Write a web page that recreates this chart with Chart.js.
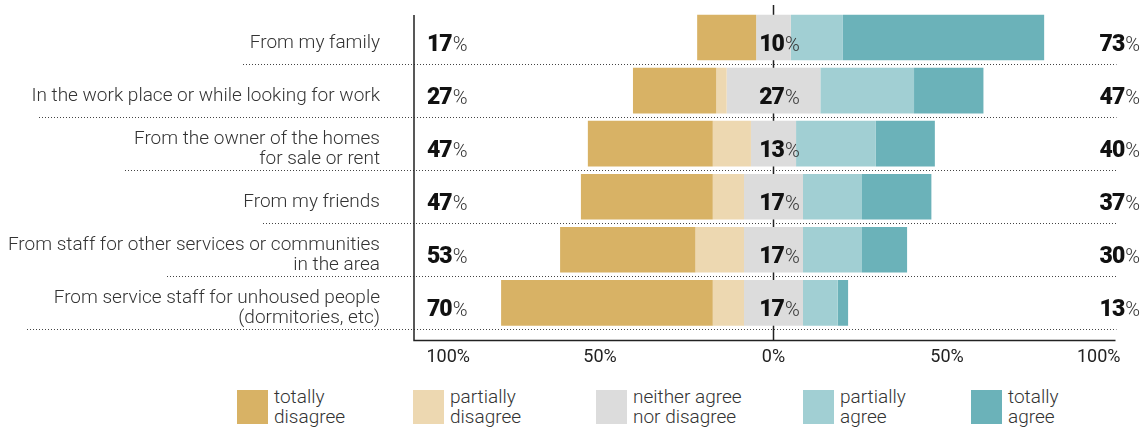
<!DOCTYPE html>
<html lang="en">
<head>
    <meta charset="UTF-8">
    <title>Sources of discrimination</title>
    <script src="https://cdn.jsdelivr.net/npm/chart.js@4.4.1/dist/chart.umd.min.js"></script>
    <style>
        body {
            margin: 0;
            background: #fff;
            font-family: 'Roboto', 'Inter', sans-serif;
            color: #333;
        }
        .wrap {
            position: relative;
            width: 1147px;
            height: 428px;
        }
        #chart {
            position: absolute;
            left: 0;
            top: 0;
        }
        .legend-item {
            position: absolute;
            top: 390px;
            display: flex;
            align-items: flex-start;
        }
        .legend-box {
            width: 31px;
            height: 34px;
        }
        .legend-text {
            margin-left: 6px;
            margin-top: -3px;
            font-size: 19px;
            font-weight: 300;
            line-height: 20px;
            color: #333;
            white-space: nowrap;
        }
    </style>
</head>
<body>

<div class="wrap" id="wrap">
    <canvas id="chart" width="1147" height="377"></canvas>
</div>

<script>
    // Categories and answer shares (%)
    const categories = [
        ['From my family'],
        ['In the work place or while looking for work'],
        ['From the owner of the homes', 'for sale or rent'],
        ['From my friends'],
        ['From staff for other services or communities', 'in the area'],
        ['From service staff for unhoused people', '(dormitories, etc)']
    ];
    const totallyDisagree   = [17, 24, 36, 38, 39, 61];
    const partiallyDisagree = [0, 3, 11, 9, 14, 9];
    const neutral           = [10, 27, 13, 17, 17, 17];
    const partiallyAgree    = [15, 27, 23, 17, 17, 10];
    const totallyAgree      = [58, 20, 17, 20, 13, 3];

    const seriesNames = [
        ['totally', 'disagree'],
        ['partially', 'disagree'],
        ['neither agree', 'nor disagree'],
        ['partially', 'agree'],
        ['totally', 'agree']
    ];
    const seriesColors = ['#d8b265', '#edd8b1', '#dcdcdc', '#a1cfd3', '#6bb2b9'];
    const tickValues = [-100, -50, 0, 50, 100];

    // layout bits: where each dotted row rule starts, where each legend entry sits
    const ruleStart = [243, 39, 125, 263, 167, 27];
    const legendLeft = [237, 413, 596, 803, 971];

    // neutral block sits centred on zero, disagree to the left, agree to the right
    const half = neutral.map(v => v / 2);
    const tdRange = half.map((h, i) => [-(h + partiallyDisagree[i] + totallyDisagree[i]), -(h + partiallyDisagree[i])]);
    const pdRange = half.map((h, i) => [-(h + partiallyDisagree[i]), -h]);
    const nRange  = half.map(h => [-h, h]);
    const paRange = half.map((h, i) => [h, h + partiallyAgree[i]]);
    const taRange = half.map((h, i) => [h + partiallyAgree[i], h + partiallyAgree[i] + totallyAgree[i]]);
    const ranges = [tdRange, pdRange, nRange, paRange, taRange];

    const disagreeTotal = totallyDisagree.map((v, i) => v + partiallyDisagree[i]);
    const agreeTotal = totallyAgree.map((v, i) => v + partiallyAgree[i]);

    // legend
    const wrapEl = document.getElementById('wrap');
    seriesNames.forEach((name, i) => {
        const item = document.createElement('div');
        item.className = 'legend-item';
        item.style.left = legendLeft[i] + 'px';
        item.innerHTML = '<div class="legend-box" style="background:' + seriesColors[i] + '"></div>' +
            '<div class="legend-text">' + name.join('<br>') + '</div>';
        wrapEl.appendChild(item);
    });

    function drawPct(ctx, value, x, y, align) {
        const num = String(value);
        ctx.font = '900 23px Roboto, Inter, sans-serif';
        ctx.letterSpacing = '-1px';
        const wNum = ctx.measureText(num).width;
        ctx.font = '300 20px Roboto, Inter, sans-serif';
        ctx.letterSpacing = '0px';
        const wPct = ctx.measureText('%').width;
        const total = wNum + wPct + 1;
        let left = x;
        if (align === 'right') left = x - total;
        if (align === 'center') left = x - total / 2;
        ctx.textAlign = 'left';
        ctx.textBaseline = 'alphabetic';
        ctx.fillStyle = '#111';
        ctx.font = '900 23px Roboto, Inter, sans-serif';
        ctx.letterSpacing = '-1px';
        ctx.fillText(num, left, y);
        ctx.font = '300 20px Roboto, Inter, sans-serif';
        ctx.letterSpacing = '0px';
        ctx.fillStyle = '#333';
        ctx.fillText('%', left + wNum + 1, y);
    }

    const decor = {
        id: 'decor',
        beforeDatasetsDraw(chart) {
            const {ctx, chartArea, scales} = chart;
            const x0 = scales.x.getPixelForValue(0);
            const band = (chartArea.bottom - chartArea.top) / categories.length;
            const axisY = chartArea.bottom + 11;
            ctx.save();
            // dotted row rules
            ctx.strokeStyle = '#444';
            ctx.lineWidth = 1;
            ctx.setLineDash([1, 2]);
            categories.forEach((c, i) => {
                const y = Math.round(scales.y.getPixelForValue(i) + band / 2) + 0.5;
                ctx.beginPath();
                ctx.moveTo(ruleStart[i], y);
                ctx.lineTo(chartArea.right - 4, y);
                ctx.stroke();
            });
            ctx.setLineDash([]);
            // zero line
            ctx.strokeStyle = '#222';
            ctx.lineWidth = 1.5;
            ctx.beginPath();
            ctx.moveTo(x0, 5);
            ctx.lineTo(x0, axisY);
            ctx.stroke();
            // left and bottom axis lines
            const axisX = chartArea.left - 12.5;
            ctx.beginPath();
            ctx.moveTo(axisX, chartArea.top + 4);
            ctx.lineTo(axisX, axisY);
            ctx.lineTo(chartArea.right - 5, axisY);
            ctx.stroke();
            ctx.restore();
        },
        afterDatasetsDraw(chart) {
            const {ctx, chartArea, scales} = chart;
            const x0 = scales.x.getPixelForValue(0);
            ctx.save();
            categories.forEach((lines, i) => {
                const yc = scales.y.getPixelForValue(i);
                // category label
                ctx.font = '300 19px Roboto, Inter, sans-serif';
                ctx.fillStyle = '#333';
                ctx.textAlign = 'right';
                ctx.textBaseline = 'alphabetic';
                lines.forEach((t, k) => {
                    const y = yc + 10.5 + (k - (lines.length - 1) / 2) * 20;
                    ctx.fillText(t, chartArea.left - 46.5, y);
                });
                // shares
                drawPct(ctx, disagreeTotal[i], chartArea.left + 0.5, yc + 13, 'left');
                drawPct(ctx, neutral[i], x0 + 6, yc + 13, 'center');
                drawPct(ctx, agreeTotal[i], chartArea.right + 19.5, yc + 13, 'right');
            });
            ctx.restore();
        }
    };

    const ctx = document.getElementById('chart').getContext('2d');
    const chart = new Chart(ctx, {
        type: 'bar',
        data: {
            labels: categories,
            datasets: ranges.map((r, i) => ({
                label: seriesNames[i].join(' '),
                data: r,
                backgroundColor: seriesColors[i],
                borderWidth: 0,
                grouped: false,
                barPercentage: 0.86,
                categoryPercentage: 1
            }))
        },
        options: {
            indexAxis: 'y',
            responsive: false,
            animation: false,
            layout: {
                padding: {left: 426.5, right: 26.5, top: 11, bottom: 0}
            },
            plugins: {
                legend: {display: false},
                tooltip: {enabled: false}
            },
            scales: {
                x: {
                    type: 'linear',
                    min: -100,
                    max: 100,
                    afterBuildTicks: scale => {
                        scale.ticks = tickValues.map(v => ({value: v}));
                    },
                    ticks: {
                        callback: v => Math.abs(v) + '%',
                        align: 'inner',
                        padding: 9,
                        maxRotation: 0,
                        autoSkip: false,
                        color: '#222',
                        font: {family: 'Roboto', size: 18}
                    },
                    grid: {display: false},
                    border: {display: false}
                },
                y: {
                    display: false
                }
            }
        },
        plugins: [decor]
    });
</script>

</body>
</html>
